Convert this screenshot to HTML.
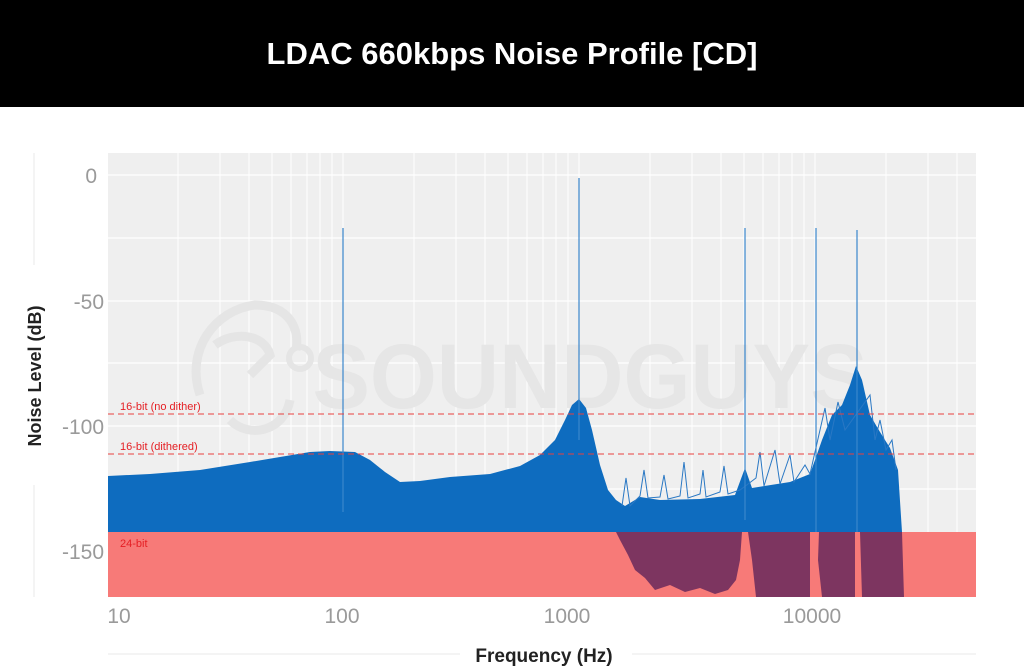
<!DOCTYPE html>
<html><head><meta charset="utf-8"><style>
html,body{margin:0;padding:0;background:#fff;width:1024px;height:672px;overflow:hidden}
svg text{font-family:"Liberation Sans",sans-serif}
</style></head><body>
<svg width="1024" height="672" viewBox="0 0 1024 672" xmlns="http://www.w3.org/2000/svg">
<rect x="0" y="0" width="1024" height="107" fill="#000"/>
<text x="512" y="64" fill="#fff" font-size="31" font-weight="bold" text-anchor="middle">LDAC 660kbps Noise Profile [CD]</text>
<rect x="108" y="153" width="868" height="444" fill="#efefef"/>
<g stroke="#fff" stroke-width="1.2">
<line x1="108" x2="976" y1="175" y2="175"/><line x1="108" x2="976" y1="238" y2="238"/>
<line x1="108" x2="976" y1="301" y2="301"/><line x1="108" x2="976" y1="363" y2="363"/>
<line x1="108" x2="976" y1="426" y2="426"/><line x1="108" x2="976" y1="489" y2="489"/>
<line x1="108" x2="976" y1="551" y2="551"/>
</g>
<g stroke="#fff" stroke-width="1">
<line x1="178" x2="178" y1="153" y2="597"/><line x1="220" x2="220" y1="153" y2="597"/><line x1="249" x2="249" y1="153" y2="597"/><line x1="272" x2="272" y1="153" y2="597"/><line x1="291" x2="291" y1="153" y2="597"/><line x1="307" x2="307" y1="153" y2="597"/><line x1="320" x2="320" y1="153" y2="597"/><line x1="332" x2="332" y1="153" y2="597"/><line x1="343" x2="343" y1="153" y2="597"/>
<line x1="414" x2="414" y1="153" y2="597"/><line x1="456" x2="456" y1="153" y2="597"/><line x1="485" x2="485" y1="153" y2="597"/><line x1="508" x2="508" y1="153" y2="597"/><line x1="527" x2="527" y1="153" y2="597"/><line x1="543" x2="543" y1="153" y2="597"/><line x1="556" x2="556" y1="153" y2="597"/><line x1="568" x2="568" y1="153" y2="597"/><line x1="579" x2="579" y1="153" y2="597"/>
<line x1="650" x2="650" y1="153" y2="597"/><line x1="692" x2="692" y1="153" y2="597"/><line x1="721" x2="721" y1="153" y2="597"/><line x1="744" x2="744" y1="153" y2="597"/><line x1="763" x2="763" y1="153" y2="597"/><line x1="779" x2="779" y1="153" y2="597"/><line x1="792" x2="792" y1="153" y2="597"/><line x1="804" x2="804" y1="153" y2="597"/><line x1="815" x2="815" y1="153" y2="597"/>
<line x1="886" x2="886" y1="153" y2="597"/><line x1="928" x2="928" y1="153" y2="597"/><line x1="957" x2="957" y1="153" y2="597"/>
</g>
<g fill="none" stroke="#e5e5e5" stroke-width="9">
<path d="M200,395 C185,350 215,310 255,305 C290,305 300,330 296,350"/>
<path d="M215,345 C235,330 265,335 270,355 L250,375"/>
<circle cx="300" cy="358" r="11" stroke-width="6"/>
<path d="M230,420 C250,440 285,430 290,400"/>
</g>
<text x="590" y="408" fill="#e6e6e6" font-size="92" font-weight="bold" text-anchor="middle" textLength="555" lengthAdjust="spacingAndGlyphs">SOUNDGUYS</text>
<polygon fill="#0e6cbf" points="108,476 150,474 200,470 250,462 280,457 310,452 330,451 355,452 370,460 385,472 400,482 420,481 450,477 490,474 520,466 540,455 555,440 565,420 572,405 579,399 586,408 592,430 600,465 608,490 616,500 625,506 640,497 660,500 700,499 735,495 745,468 752,488 790,482 810,474 815,460 822,440 832,415 842,405 850,385 856,366 862,380 870,415 880,432 890,448 898,470 902,532 108,532"/>
<polyline fill="none" stroke="#2a78c4" stroke-width="1" points="622,506 626,478 630,506 640,496 644,470 648,498 660,497 664,475 668,499 680,496 684,462 688,498 700,494 703,470 706,497 720,492 724,466 728,494 740,490 756,478 760,452 764,486 775,450 780,484 790,455 794,482 805,465 810,474 825,408 830,440 838,402 845,430 870,395 875,440 880,420 886,450 892,440 896,470"/>
<rect x="108" y="532" width="868" height="65" fill="#f77a78"/>
<polygon fill="#7d3560" points="616,532 742,532 740,560 736,580 728,590 715,594 700,588 685,592 670,585 655,590 645,578 635,570 628,555 620,540"/>
<polygon fill="#7d3560" points="748,532 810,532 810,597 756,597 752,560"/>
<polygon fill="#7d3560" points="819,532 855,532 855,597 822,597 818,560"/>
<polygon fill="#7d3560" points="860,532 902,532 904,597 862,597"/>
<g stroke="#3a86cc" stroke-width="1.2">
<line x1="343" x2="343" y1="228" y2="512"/><line x1="579" x2="579" y1="178" y2="440"/>
<line x1="745" x2="745" y1="228" y2="520"/><line x1="816" x2="816" y1="228" y2="532"/><line x1="857" x2="857" y1="230" y2="532"/>
</g>
<g stroke="#e8413f" stroke-width="1" stroke-dasharray="6,4">
<line x1="108" x2="976" y1="414" y2="414"/><line x1="108" x2="976" y1="454" y2="454"/>
</g>
<g fill="#e51e23" font-size="11">
<text x="120" y="410">16-bit (no dither)</text>
<text x="120" y="450">16-bit (dithered)</text>
<text x="120" y="547">24-bit</text>
</g>
<g fill="#9a9a9a" font-size="21" text-anchor="end">
<text x="97" y="183">0</text><text x="104" y="309">-50</text><text x="104" y="434">-100</text><text x="104" y="559">-150</text>
</g>
<g fill="#9a9a9a" font-size="21" text-anchor="middle">
<text x="119" y="623">10</text><text x="342" y="623">100</text><text x="567" y="623">1000</text><text x="812" y="623">10000</text>
</g>
<g stroke="#eaeaea" stroke-width="1">
<line x1="34" x2="34" y1="153" y2="265"/><line x1="34" x2="34" y1="485" y2="597"/>
<line x1="108" x2="460" y1="654" y2="654"/><line x1="632" x2="976" y1="654" y2="654"/>
</g>
<text transform="translate(41,376) rotate(-90)" fill="#222" font-size="18" font-weight="bold" text-anchor="middle">Noise Level (dB)</text>
<text x="544" y="662" fill="#222" font-size="19" font-weight="bold" text-anchor="middle">Frequency (Hz)</text>
</svg>
</body></html>
